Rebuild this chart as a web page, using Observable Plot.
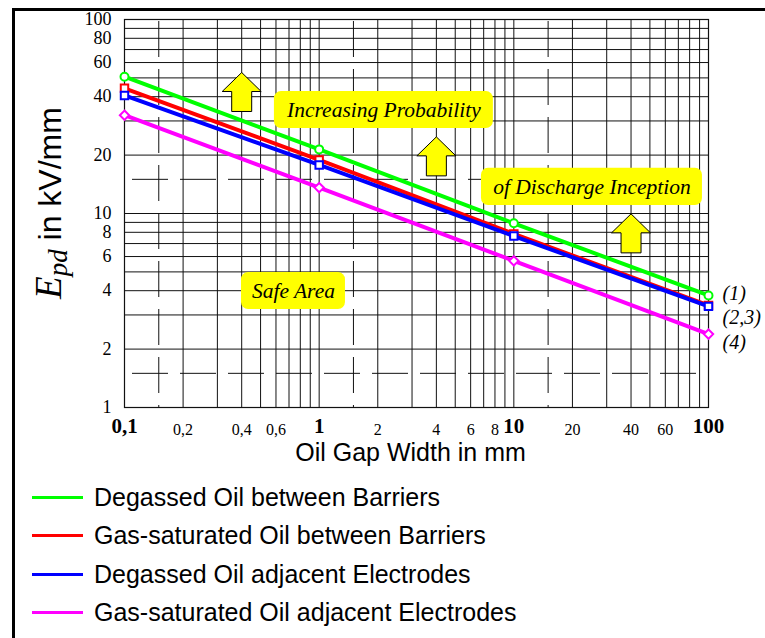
<!DOCTYPE html>
<html>
<head>
<meta charset="utf-8">
<script src="https://cdn.jsdelivr.net/npm/d3@7"></script>
<script src="https://cdn.jsdelivr.net/npm/@observablehq/plot@0.6"></script>
<style>
  body { margin: 0; background: #fff; }
  #wrap { position: relative; width: 765px; height: 638px; overflow: hidden; background: #fff; }
  #chart { position: absolute; left: 0; top: 0; }
  #chart svg { background: transparent; }
  #border { position: absolute; left: 12px; top: 8px; width: 800px; height: 700px;
            border-left: 3px solid #000; border-top: 3px solid #000; pointer-events: none; }
  .legend-row { position: absolute; left: 32px; height: 30px; display: flex; align-items: center;
                font-family: "Liberation Sans", Arial, sans-serif; font-size: 25px; color: #000; white-space: nowrap; }
  .swatch { width: 51px; height: 3px; margin-right: 11px; }
</style>
</head>
<body>
<div id="wrap">
  <div id="chart"></div>
  <div id="legend"></div>
  <div id="border"></div>
</div>
<script>
// ---------- data ----------
const gaps = [0.1, 1, 10, 100];
const degassedBarriers   = [50.7, 21.4, 8.9, 3.78];
const gasBarriers        = [44.2, 18.9, 7.85, 3.36];
const degassedElectrodes = [40.6, 17.8, 7.65, 3.32];
const gasElectrodes      = [32.1, 13.6, 5.7, 2.39];

const seriesNames = [
  "Degassed Oil between Barriers",
  "Gas-saturated Oil between Barriers",
  "Degassed Oil adjacent Electrodes",
  "Gas-saturated Oil adjacent Electrodes"
];
const seriesValues = [degassedBarriers, gasBarriers, degassedElectrodes, gasElectrodes];
const seriesColors = ["#00ff00", "#ff0000", "#0000ff", "#ff00ff"];
const seriesSymbols = ["circle", "square", "square", "diamond2"];

const xTicksBold = [0.1, 1, 10, 100];
const xTicksSmall = [0.2, 0.4, 0.6, 2, 4, 6, 8, 20, 40, 60];
const yTicks = [1, 2, 4, 6, 8, 10, 20, 40, 60, 80, 100];
const xGrid = [0.2, 0.3, 0.4, 0.5, 0.6, 0.7, 0.8, 0.9, 1, 2, 3, 4, 5, 6, 7, 8, 9, 10, 20, 30, 40, 50, 60, 70, 80, 90];
const yGrid = [2, 3, 4, 5, 6, 7, 8, 9, 10, 20, 30, 40, 50, 60, 70, 80, 90];
const xDashed = [0.15, 1.5, 15];
const yDashed = [1.5, 15];

const boxLabels = ["Increasing Probability", "of Discharge Inception", "Safe Area"];
const boxX1 = [0.589, 6.82, 0.399];
const boxX2 = [7.85, 93.1, 1.365];
const boxY1 = [27.4, 11.0, 3.2];
const boxY2 = [42.5, 17.1, 4.96];

const arrowX = [0.4, 4, 40];
const arrowY = [42.3, 19.7, 7.9];

const curveLabels = ["(1)", "(2,3)", "(4)"];
const curveLabelY = [3.87, 2.91, 2.16];

// ---------- build tables ----------
const rows = [];
seriesNames.forEach((name, i) => gaps.forEach((g, j) => rows.push({series: name, gap: g, e: seriesValues[i][j], idx: i})));
const boxes = boxLabels.map((t, i) => ({t, x1: boxX1[i], x2: boxX2[i], y1: boxY1[i], y2: boxY2[i],
  cx: Math.sqrt(boxX1[i] * boxX2[i]), cy: Math.sqrt(boxY1[i] * boxY2[i])}));
const arrows = arrowX.map((x, i) => ({x, y: arrowY[i]}));
const curveLbls = curveLabels.map((t, i) => ({t, y: curveLabelY[i]}));

const serif = "'Liberation Serif', 'Times New Roman', serif";
const fmt = d => String(d).replace(".", ",");

const upArrow = {
  draw(ctx) {
    ctx.moveTo(0, -19.5);
    ctx.lineTo(19.5, -0.5);
    ctx.lineTo(10, -0.5);
    ctx.lineTo(10, 19.5);
    ctx.lineTo(-10, 19.5);
    ctx.lineTo(-10, -0.5);
    ctx.lineTo(-19.5, -0.5);
    ctx.closePath();
  }
};

const seriesMarks = [];
seriesNames.forEach((name, i) => {
  const data = rows.filter(r => r.idx === i);
  seriesMarks.push(Plot.line(data, {x: "gap", y: "e", stroke: seriesColors[i], strokeWidth: 4}));
  seriesMarks.push(Plot.dot(data, {x: "gap", y: "e", symbol: seriesSymbols[i], r: seriesSymbols[i] === "circle" ? 4 : 4.2,
    fill: "#fff", stroke: seriesColors[i], strokeWidth: 2}));
});

const chart = Plot.plot({
  width: 765,
  height: 475,
  marginLeft: 124,
  marginRight: 57,
  marginTop: 19,
  marginBottom: 68,
  x: {type: "log", domain: [0.1, 100], axis: null},
  y: {type: "log", domain: [1, 100], axis: null},
  marks: [
    Plot.ruleX(xGrid, {x: d => d, stroke: "#111", strokeWidth: 1}),
    Plot.ruleY(yGrid, {y: d => d, stroke: "#111", strokeWidth: 1}),
    Plot.ruleX(xDashed, {x: d => d, stroke: "#111", strokeWidth: 1, strokeDasharray: "36,12", strokeDashoffset: 46}),
    Plot.ruleY(yDashed, {y: d => d, stroke: "#111", strokeWidth: 1, strokeDasharray: "36,12", strokeDashoffset: 40}),
    Plot.frame({stroke: "#111", strokeWidth: 1.2}),
    Plot.rect(boxes, {x1: "x1", x2: "x2", y1: "y1", y2: "y2", fill: "#ffff00", rx: 7}),
    Plot.text(boxes, {x: "cx", y: "cy", text: "t", fontFamily: serif, fontStyle: "italic", fontSize: 21.5, fill: "#000"}),
    Plot.dot(arrows, {x: "x", y: "y", symbol: upArrow, fill: "#ffff00", stroke: "#000", strokeWidth: 1}),
    ...seriesMarks,
    Plot.text(curveLbls, {y: "y", text: "t", frameAnchor: "right", dx: 14, textAnchor: "start",
      fontFamily: serif, fontStyle: "italic", fontSize: 20, fill: "#000"}),
    Plot.text(yTicks, {y: d => d, text: d => fmt(d), frameAnchor: "left", dx: -13, textAnchor: "end",
      fontFamily: serif, fontSize: 18, fill: "#000"}),
    Plot.text(xTicksBold, {x: d => d, text: d => fmt(d), frameAnchor: "bottom", dy: 25.5,
      fontFamily: serif, fontWeight: "bold", fontSize: 21, fill: "#000"}),
    Plot.text(xTicksSmall, {x: d => d, text: d => fmt(d), frameAnchor: "bottom", dy: 27,
      fontFamily: serif, fontSize: 16, fill: "#000"}),
    Plot.text(["Oil Gap Width in mm"], {text: d => d, frameAnchor: "bottom", dy: 53, dx: -6,
      fontFamily: "'Liberation Sans', Arial, sans-serif", fontSize: 25, fill: "#000"})
  ]
});
document.getElementById("chart").appendChild(chart);

// y-axis title with subscript
const svg = d3.select(chart);
const yt = svg.append("text")
  .attr("transform", "translate(61,203) rotate(-90)")
  .attr("text-anchor", "middle")
  .attr("fill", "#000");
yt.append("tspan").attr("font-family", serif).attr("font-style", "italic").attr("font-size", 37).text("E");
yt.append("tspan").attr("font-family", serif).attr("font-style", "italic").attr("font-size", 27).attr("dy", 6).text("pd");
yt.append("tspan").attr("font-family", "'Liberation Sans', Arial, sans-serif").attr("font-size", 32).attr("dy", -6).text(" in kV/mm");

// legend
const legendCenters = [497, 535.5, 574, 612];
const legend = document.getElementById("legend");
seriesNames.forEach((name, i) => {
  const row = document.createElement("div");
  row.className = "legend-row";
  row.style.top = (legendCenters[i] - 15) + "px";
  const sw = document.createElement("div");
  sw.className = "swatch";
  sw.style.background = seriesColors[i];
  const tx = document.createElement("span");
  tx.textContent = name;
  row.appendChild(sw);
  row.appendChild(tx);
  legend.appendChild(row);
});
</script>
</body>
</html>
